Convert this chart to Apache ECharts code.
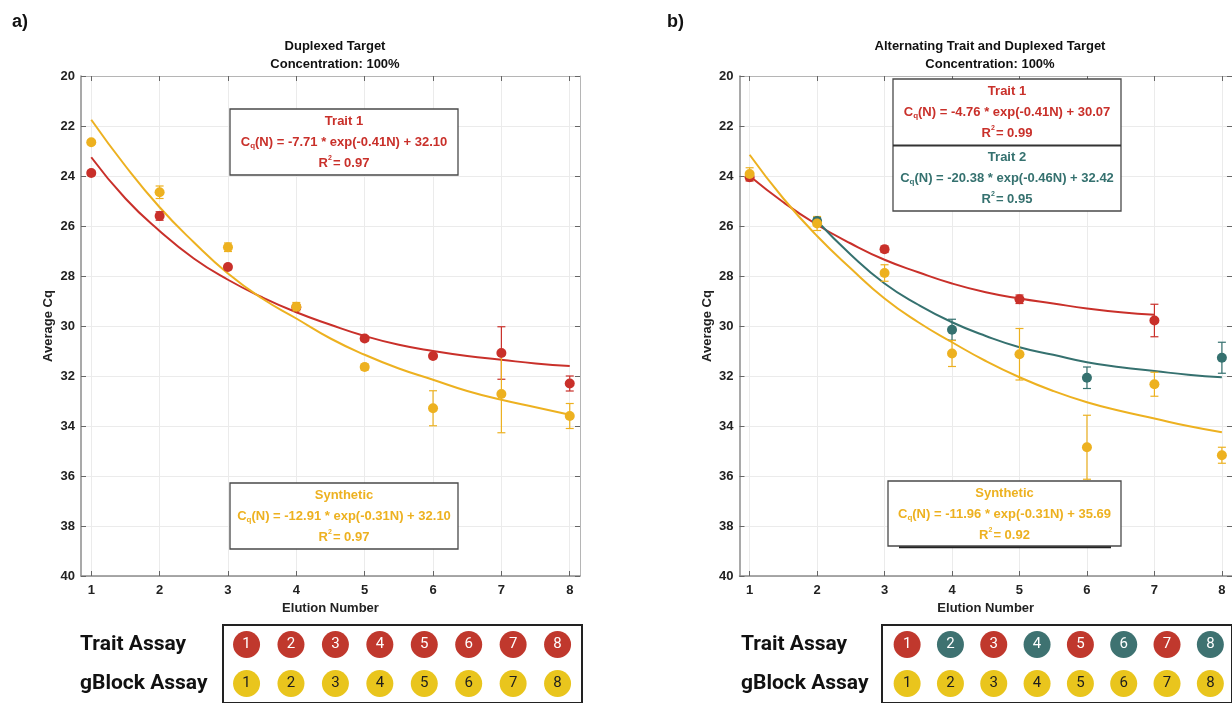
<!DOCTYPE html>
<html>
<head>
<meta charset="utf-8">
<script src="https://cdn.jsdelivr.net/npm/echarts@6/dist/echarts.min.js"></script>
<style>
  html, body { margin: 0; padding: 0; background: #fff; }
  #chart { width: 1232px; height: 703px; }
</style>
</head>
<body>
<div id="chart"></div>
<script>
// elution numbers (x axis ticks / table columns)
const elution = [1, 2, 3, 4, 5, 6, 7, 8];
const assays = ['Trait Assay', 'gBlock Assay'];

// panel a) duplexed target
const aTraitMean = [23.88, 25.6, 27.64, 29.25, 30.5, 31.2, 31.08, 32.3];
const aTraitErr = [0.1, 0.17, 0.1, 0.1, 0.1, 0.06, 1.05, 0.3];
const aSynthMean = [22.65, 24.65, 26.85, 29.23, 31.64, 33.29, 32.72, 33.6];
const aSynthErr = [0.08, 0.25, 0.17, 0.17, 0.12, 0.7, 1.55, 0.5];
// fitted curves at half steps
const aFitX = [1, 1.5, 2, 2.5, 3, 3.5, 4, 4.5, 5, 5.5, 6, 6.5, 7, 7.5, 8];
const aTraitFit = [23.25, 24.9, 26.2, 27.3, 28.15, 28.85, 29.45, 29.95, 30.4, 30.75, 31.0, 31.2, 31.35, 31.5, 31.6];
const aSynthFit = [21.75, 23.6, 25.25, 26.65, 27.9, 28.9, 29.7, 30.5, 31.15, 31.7, 32.15, 32.6, 32.95, 33.25, 33.55];

// panel b) alternating trait and duplexed target
const bTrait1X = [1, 3, 5, 7];
const bTrait1Mean = [24.05, 26.93, 28.93, 29.78];
const bTrait1Err = [0.15, 0.13, 0.17, 0.65];
const bTrait2X = [2, 4, 6, 8];
const bTrait2Mean = [25.8, 30.15, 32.07, 31.27];
const bTrait2Err = [0.15, 0.42, 0.43, 0.62];
const bSynthMean = [23.92, 25.9, 27.88, 31.1, 31.13, 34.85, 32.33, 35.17];
const bSynthErr = [0.25, 0.28, 0.33, 0.52, 1.03, 1.28, 0.48, 0.32];
const bTrait1FitX = [1, 1.5, 2, 2.5, 3, 3.5, 4, 4.5, 5, 5.5, 6, 6.5, 7];
const bTrait1Fit = [24.0, 25.05, 25.95, 26.7, 27.35, 27.85, 28.3, 28.65, 28.9, 29.1, 29.3, 29.45, 29.55];
const bTrait2FitX = [2, 2.5, 3, 3.5, 4, 4.5, 5, 5.5, 6, 6.5, 7, 7.5, 8];
const bTrait2Fit = [25.8, 27.15, 28.3, 29.15, 29.85, 30.4, 30.85, 31.15, 31.45, 31.65, 31.8, 31.95, 32.05];
const bSynthFitX = [1, 1.5, 2, 2.5, 3, 3.5, 4, 4.5, 5, 5.5, 6, 6.5, 7, 7.5, 8];
const bSynthFit = [23.15, 24.9, 26.4, 27.7, 28.9, 29.85, 30.65, 31.4, 32.05, 32.6, 33.05, 33.4, 33.7, 34.0, 34.25];

// which trait was run at each elution (table rows)
const aTraitRow = [1, 1, 1, 1, 1, 1, 1, 1];
const bTraitRow = [1, 2, 1, 2, 1, 2, 1, 2];

const RED = '#c9302a';
const YELLOW = '#edb120';
const TEAL = '#35716f';
const CIRCLE = { 1: '#c0382d', 2: '#3e7271', gblock: '#e9c51d' };
const FONT = '"Liberation Sans", Arial, sans-serif';

const chart = echarts.init(document.getElementById('chart'));

function mainAxes(g) {
  const tickStyle = { inside: true, length: 5, lineStyle: { color: '#666' } };
  const x = [
    {
      gridIndex: g, type: 'value', min: 0.85, max: 8.15, position: 'bottom',
      axisLine: { onZero: false, lineStyle: { color: '#8c8c8c', width: 1.5 } },
      axisTick: Object.assign({ customValues: elution }, tickStyle),
      axisLabel: { customValues: elution, color: '#222', fontSize: 13, fontWeight: 'bold', fontFamily: FONT, margin: 8 },
      splitLine: { show: true, lineStyle: { color: '#ebebeb' } },
      name: 'Elution Number', nameLocation: 'middle', nameGap: 24,
      nameTextStyle: { color: '#222', fontSize: 13, fontWeight: 'bold', fontFamily: FONT }
    },
    {
      gridIndex: g, type: 'value', min: 0.85, max: 8.15, position: 'top',
      axisLine: { onZero: false, lineStyle: { color: '#b5b5b5' } },
      axisTick: Object.assign({ customValues: elution }, tickStyle),
      axisLabel: { show: false }, splitLine: { show: false }
    }
  ];
  const y = [
    {
      gridIndex: g, type: 'value', inverse: true, min: 20, max: 40, interval: 2, position: 'left',
      axisLine: { show: true, onZero: false, lineStyle: { color: '#8c8c8c', width: 1.5 } },
      axisTick: Object.assign({ show: true }, tickStyle),
      axisLabel: { color: '#222', fontSize: 13, fontWeight: 'bold', fontFamily: FONT, margin: 6 },
      splitLine: { show: true, lineStyle: { color: '#ebebeb' } },
      name: 'Average Cq', nameLocation: 'middle', nameGap: 26, nameRotate: 90,
      nameTextStyle: { color: '#222', fontSize: 13, fontWeight: 'bold', fontFamily: FONT }
    },
    {
      gridIndex: g, type: 'value', inverse: true, min: 20, max: 40, interval: 2, position: 'right',
      axisLine: { show: true, onZero: false, lineStyle: { color: '#b5b5b5' } },
      axisTick: Object.assign({ show: true }, tickStyle),
      axisLabel: { show: false }, splitLine: { show: false }
    }
  ];
  return { x, y };
}

function tableAxes(g, min, max, labelMargin) {
  return {
    x: [{ gridIndex: g, type: 'value', min: min, max: max, show: false }],
    y: [{
      gridIndex: g, type: 'category', data: assays, inverse: true,
      axisLine: { show: false }, axisTick: { show: false }, splitLine: { show: false },
      axisLabel: { align: 'left', margin: labelMargin, color: '#111', fontSize: 21, fontWeight: 'bold', fontFamily: 'Roboto, sans-serif' }
    }]
  };
}

const axA = mainAxes(0), axB = mainAxes(1);
const tA = tableAxes(2, 0.47, 8.55, 143), tB = tableAxes(3, 0.42, 8.5, 141);
// xAxis indices: 0,1 = a ; 2,3 = b ; 4 = table a ; 5 = table b (same for yAxis)

function pairs(xs, ys) { return xs.map((x, i) => [x, ys[i]]); }

function fitLine(xi, xs, ys, color) {
  return {
    type: 'line', xAxisIndex: xi, yAxisIndex: xi, data: pairs(xs, ys), smooth: true,
    symbol: 'none', lineStyle: { color: color, width: 2 }, z: 3, silent: true
  };
}

function errorBars(xi, xs, means, errs, color) {
  return {
    type: 'custom', xAxisIndex: xi, yAxisIndex: xi,
    data: xs.map((x, i) => [x, means[i] - errs[i], means[i] + errs[i]]),
    encode: { x: 0, y: [1, 2] }, z: 4, silent: true,
    renderItem: function (params, api) {
      const lo = api.coord([api.value(0), api.value(1)]);
      const hi = api.coord([api.value(0), api.value(2)]);
      const w = 4;
      const st = { stroke: color, lineWidth: 1.2 };
      return {
        type: 'group', children: [
          { type: 'line', shape: { x1: lo[0], y1: lo[1], x2: hi[0], y2: hi[1] }, style: st },
          { type: 'line', shape: { x1: lo[0] - w, y1: lo[1], x2: lo[0] + w, y2: lo[1] }, style: st },
          { type: 'line', shape: { x1: hi[0] - w, y1: hi[1], x2: hi[0] + w, y2: hi[1] }, style: st }
        ]
      };
    }
  };
}

function points(xi, xs, means, color) {
  return {
    type: 'scatter', xAxisIndex: xi, yAxisIndex: xi, data: pairs(xs, means),
    symbol: 'circle', symbolSize: 10, itemStyle: { color: color, opacity: 1 }, z: 5, silent: true
  };
}

function tableSeries(xi, traitRow) {
  const trait = elution.map((n, i) => ({
    value: [n, assays[0]], itemStyle: { color: CIRCLE[traitRow[i]], opacity: 1 },
    label: { color: '#fff' }
  }));
  const gblock = elution.map(n => ({
    value: [n, assays[1]], itemStyle: { color: CIRCLE.gblock, opacity: 1 },
    label: { color: '#1d1d1d' }
  }));
  return {
    type: 'scatter', xAxisIndex: xi, yAxisIndex: xi, data: trait.concat(gblock),
    symbol: 'circle', symbolSize: 27, silent: true, itemStyle: { opacity: 1 },
    label: {
      show: true, position: 'inside', fontSize: 15, fontFamily: 'Roboto, sans-serif',
      formatter: p => String(p.value[0])
    }
  };
}

// equation boxes
function eqText(cx, cy, color, tpl) {
  return {
    type: 'text', x: cx, y: cy, z: 100,
    style: {
      text: tpl, fill: color, align: 'center', verticalAlign: 'middle',
      rich: {
        t: { fill: color, fontFamily: FONT, fontWeight: 'bold', fontSize: 13, lineHeight: 16 },
        sub: { fill: color, fontFamily: FONT, fontWeight: 'bold', fontSize: 8, lineHeight: 16, verticalAlign: 'bottom', padding: [4, 0, 0, 0] },
        sup: { fill: color, fontFamily: FONT, fontWeight: 'bold', fontSize: 7, lineHeight: 16, verticalAlign: 'top', padding: [0, 1, 5, 0] }
      }
    }
  };
}
function fitBlock(cx, y0, color, name, eq, r2) {
  return [
    eqText(cx, y0, color, '{t|' + name + '}'),
    eqText(cx, y0 + 21, color, '{t|C}{sub|q}{t|(N) = ' + eq + '}'),
    eqText(cx, y0 + 42, color, '{t|R}{sup|2}{t|= ' + r2 + '}')
  ];
}
function box(x, y, w, h) {
  return { type: 'rect', z: 99, shape: { x: x, y: y, width: w, height: h }, style: { fill: '#fff', stroke: '#4a4a4a', lineWidth: 1.3 } };
}

const graphics = [
  { type: 'text', x: 12, y: 13, style: { text: 'a)', fontSize: 18, fontWeight: 'bold', fontFamily: FONT, fill: '#111' } },
  { type: 'text', x: 667, y: 13, style: { text: 'b)', fontSize: 18, fontWeight: 'bold', fontFamily: FONT, fill: '#111' } },
  box(230, 109, 228, 66),
  ...fitBlock(344, 121, RED, 'Trait 1', '-7.71 * exp(-0.41N) + 32.10', '0.97'),
  box(230, 483, 228, 66),
  ...fitBlock(344, 495, YELLOW, 'Synthetic', '-12.91 * exp(-0.31N) + 32.10', '0.97'),
  box(893, 79, 228, 132),
  { type: 'line', z: 100, shape: { x1: 893, y1: 145.5, x2: 1121, y2: 145.5 }, style: { stroke: '#333', lineWidth: 2 } },
  ...fitBlock(1007, 91, RED, 'Trait 1', '-4.76 * exp(-0.41N) + 30.07', '0.99'),
  ...fitBlock(1007, 157, TEAL, 'Trait 2', '-20.38 * exp(-0.46N) + 32.42', '0.95'),
  { type: 'line', z: 98, shape: { x1: 899, y1: 547, x2: 1111, y2: 547 }, style: { stroke: '#222', lineWidth: 2.5 } },
  box(888, 481, 233, 65),
  ...fitBlock(1004.5, 493, YELLOW, 'Synthetic', '-11.96 * exp(-0.31N) + 35.69', '0.92')
];

chart.setOption({
  backgroundColor: '#fff',
  animation: false,
  title: [
    {
      text: 'Duplexed Target\nConcentration: 100%', left: 330, top: 32, textAlign: 'center',
      textStyle: { color: '#111', fontSize: 13, fontWeight: 'bold', fontFamily: FONT, lineHeight: 18 }
    },
    {
      text: 'Alternating Trait and Duplexed Target\nConcentration: 100%', left: 985, top: 32, textAlign: 'center',
      textStyle: { color: '#111', fontSize: 13, fontWeight: 'bold', fontFamily: FONT, lineHeight: 18 }
    }
  ],
  grid: [
    { left: 81, top: 76, width: 499, height: 500 },
    { left: 739.5, top: 76, width: 499, height: 500 },
    { left: 223, top: 625, width: 359, height: 82, show: true, borderColor: '#222', borderWidth: 2 },
    { left: 882, top: 625, width: 359, height: 82, show: true, borderColor: '#222', borderWidth: 2 }
  ],
  xAxis: [...axA.x, ...axB.x, ...tA.x, ...tB.x],
  yAxis: [...axA.y, ...axB.y, ...tA.y, ...tB.y],
  series: [
    // panel a
    fitLine(0, aFitX, aTraitFit, RED),
    fitLine(0, aFitX, aSynthFit, YELLOW),
    errorBars(0, elution, aTraitMean, aTraitErr, RED),
    points(0, elution, aTraitMean, RED),
    errorBars(0, elution, aSynthMean, aSynthErr, YELLOW),
    points(0, elution, aSynthMean, YELLOW),
    // panel b
    fitLine(2, bTrait1FitX, bTrait1Fit, RED),
    fitLine(2, bTrait2FitX, bTrait2Fit, TEAL),
    fitLine(2, bSynthFitX, bSynthFit, YELLOW),
    errorBars(2, bTrait1X, bTrait1Mean, bTrait1Err, RED),
    points(2, bTrait1X, bTrait1Mean, RED),
    errorBars(2, bTrait2X, bTrait2Mean, bTrait2Err, TEAL),
    points(2, bTrait2X, bTrait2Mean, TEAL),
    errorBars(2, elution, bSynthMean, bSynthErr, YELLOW),
    points(2, elution, bSynthMean, YELLOW),
    // assay tables
    tableSeries(4, aTraitRow),
    tableSeries(5, bTraitRow)
  ],
  graphic: graphics
});
</script>
</body>
</html>
